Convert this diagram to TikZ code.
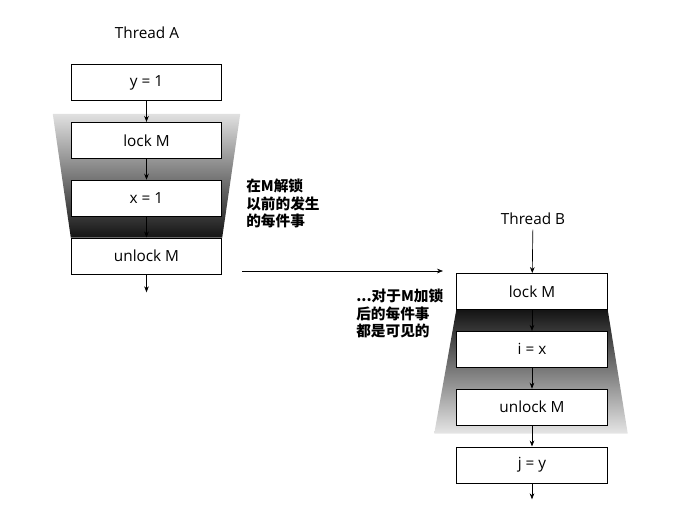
\documentclass[tikz,border=0pt]{standalone}
\usepackage{fontspec}
\setmainfont{Open Sans}
\newfontfamily\cjk{Noto Sans CJK SC}
\usetikzlibrary{arrows.meta, positioning, calc, backgrounds}

\begin{document}
\begin{tikzpicture}[x=0.75pt, y=-0.75pt, node distance=15.75pt,
    every node/.style={font=\fontsize{11.5}{13}\selectfont},
    stmt/.style={draw, fill=white, line width=0.6pt, minimum width=113pt, minimum height=27pt, inner sep=0pt},
    note/.style={align=left, inner sep=0pt, font=\cjk\bfseries\fontsize{11}{13}\selectfont},
    >={Stealth[length=4.5pt, width=3.5pt]}]
    \useasboundingbox (0,0) rectangle (676,521);
    % thread A
    \node (tA) at (147,33) {Thread A};
    \node[stmt] (yA) at (146.5,82.5) {y = 1};
    \node[stmt, below=of yA] (lockA) {lock M};
    \node[stmt, below=of lockA] (xA) {x = 1};
    \node[stmt, below=of xA] (unlockA) {unlock M};
    \coordinate[below=13.5pt of unlockA.south] (endA);
    % thread B
    \node (tB) at (533,219) {Thread B};
    \node[stmt] (lockB) at (532,291.5) {lock M};
    \node[stmt, below=of lockB] (iB) {i = x};
    \node[stmt, below=of iB] (unlockB) {unlock M};
    \node[stmt, below=of unlockB] (jB) {j = y};
    \coordinate[below=12pt of jB.south] (endB);
    % shaded regions
    \begin{scope}[on background layer]
        \shade[top color=black!12, middle color=black!40, bottom color=black!92]
            ($(lockA.north west)+(-18,-8)$) -- ($(lockA.north east)+(18,-8)$)
            -- (unlockA.north east) -- (unlockA.north west) -- cycle;
        \shade[top color=black!92, middle color=black!40, bottom color=black!10]
            (lockB.south west) -- (lockB.south east)
            -- ($(unlockB.south east)+(20,8)$) -- ($(unlockB.south west)+(-22,8)$) -- cycle;
    \end{scope}
    % arrows
    \foreach \a/\b in {yA/lockA, lockA/xA, xA/unlockA, lockB/iB, iB/unlockB, unlockB/jB}
        \draw[->, line width=0.5pt] (\a) -- (\b);
    \draw[->, line width=0.5pt] (unlockA) -- (endA);
    \draw[->, line width=0.5pt] (jB) -- (endB);
    \draw[->, line width=0.5pt] (tB) -- (lockB);
    \coordinate (sync1) at (242,271);
    \coordinate (sync2) at (443,271);
    \draw[->, line width=0.5pt] (sync1) -- (sync2);
    % notes
    \node[note, anchor=north west] (noteA) at (246,179) {在M解锁\\以前的发生\\的每件事};
    \node[note, anchor=north west] (noteB) at (356,289) {...对于M加锁\\后的每件事\\都是可见的};
\end{tikzpicture}
\end{document}
